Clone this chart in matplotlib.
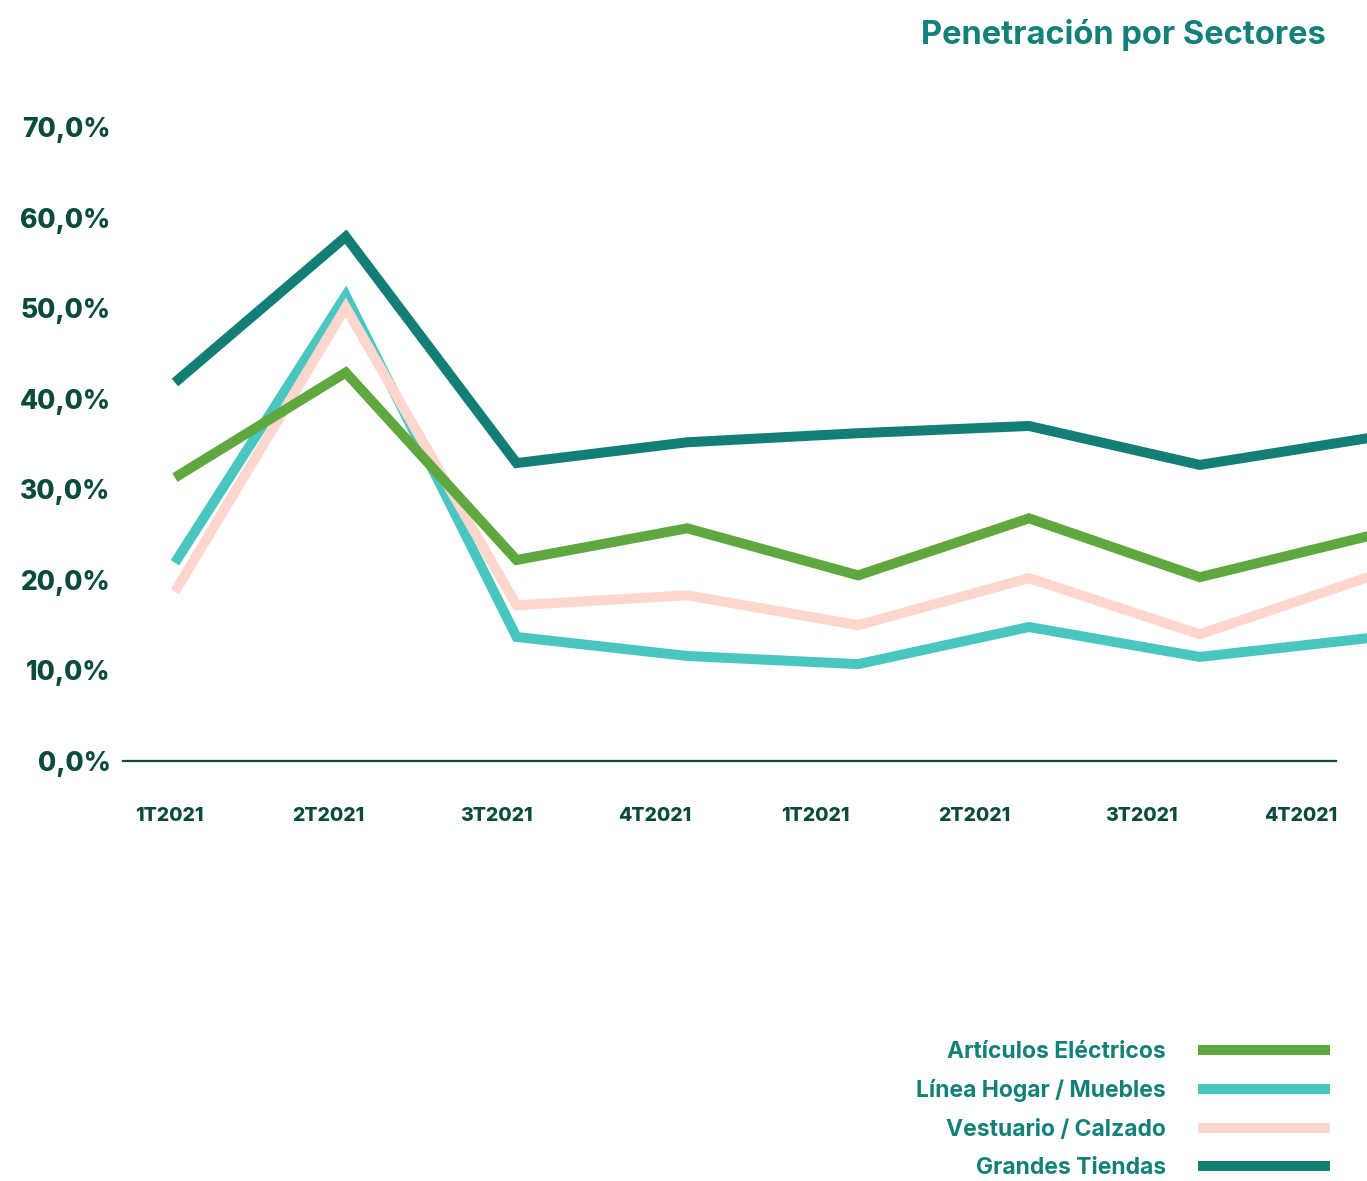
import matplotlib.pyplot as plt

plt.rcParams['font.family'] = ['Inter', 'DejaVu Sans']

# datos
periodos = ["1T2021", "2T2021", "3T2021", "4T2021", "1T2021", "2T2021", "3T2021", "4T2021"]
electricos = [31.3, 42.9, 22.2, 25.7, 20.5, 26.8, 20.3, 24.9]
hogar = [21.9, 51.4, 13.7, 11.6, 10.7, 14.8, 11.5, 13.6]
vestuario = [18.7, 50.1, 17.2, 18.3, 15.0, 20.2, 14.0, 20.4]
grandes = [41.8, 57.9, 32.9, 35.2, 36.2, 37.0, 32.7, 35.7]

series = [
    ("Línea Hogar / Muebles", hogar, "#48c6bf"),
    ("Vestuario / Calzado", vestuario, "#fdd6cd"),
    ("Artículos Eléctricos", electricos, "#5fa83f"),
    ("Grandes Tiendas", grandes, "#127e76"),
]
legend_order = ["Artículos Eléctricos", "Línea Hogar / Muebles", "Vestuario / Calzado", "Grandes Tiendas"]

# posiciones de las etiquetas del eje x (no coinciden con los puntos)
xtick_pos = [-0.03, 0.90, 1.88, 2.81, 3.75, 4.68, 5.66, 6.59]

DARK = "#0b4a3e"
TEAL = "#13807a"

fig = plt.figure(figsize=(13.67, 11.81), dpi=100)
ax = fig.add_axes([0.09, 0.3556, 0.910, 0.5521])

handles = {}
x = list(range(len(periodos)))
for name, vals, col in series:
    (ln,) = ax.plot(x, vals, color=col, lw=7.2, solid_capstyle="butt",
                    solid_joinstyle="miter", label=name)
    handles[name] = ln

ax.set_xlim(-0.304, 6.979)
ax.set_ylim(0, 72)

for s in ["top", "right", "left"]:
    ax.spines[s].set_visible(False)
ax.spines["bottom"].set_color(DARK)
ax.spines["bottom"].set_linewidth(1.6)
ax.spines["bottom"].set_bounds(-0.304, 6.80)

ax.set_yticks(range(0, 71, 10))
ax.set_yticklabels([f"{v},0%" for v in range(0, 71, 10)], fontsize=19,
                   fontweight="heavy", color=DARK)
ax.set_xticks(xtick_pos)
ax.set_xticklabels(periodos, fontsize=14, fontweight="heavy", color=DARK)
ax.tick_params(axis="both", length=0)
ax.tick_params(axis="y", pad=9)
ax.tick_params(axis="x", pad=33)

fig.text(1326 / 1367, 1 - 35 / 1181, "Penetración por Sectores", ha="right",
         va="center", fontsize=23.5, fontweight="bold", color=TEAL)

leg = fig.legend([handles[n] for n in legend_order], legend_order,
                 loc="upper right", bbox_to_anchor=(1330 / 1367, 1 - 1041 / 1181),
                 frameon=False, markerfirst=False, fontsize=16.5, labelcolor=TEAL,
                 handlelength=5.75, handletextpad=1.4, labelspacing=0.72,
                 borderpad=0, borderaxespad=0)
for t in leg.get_texts():
    t.set_fontweight("bold")

plt.savefig("out.png", dpi=100)
